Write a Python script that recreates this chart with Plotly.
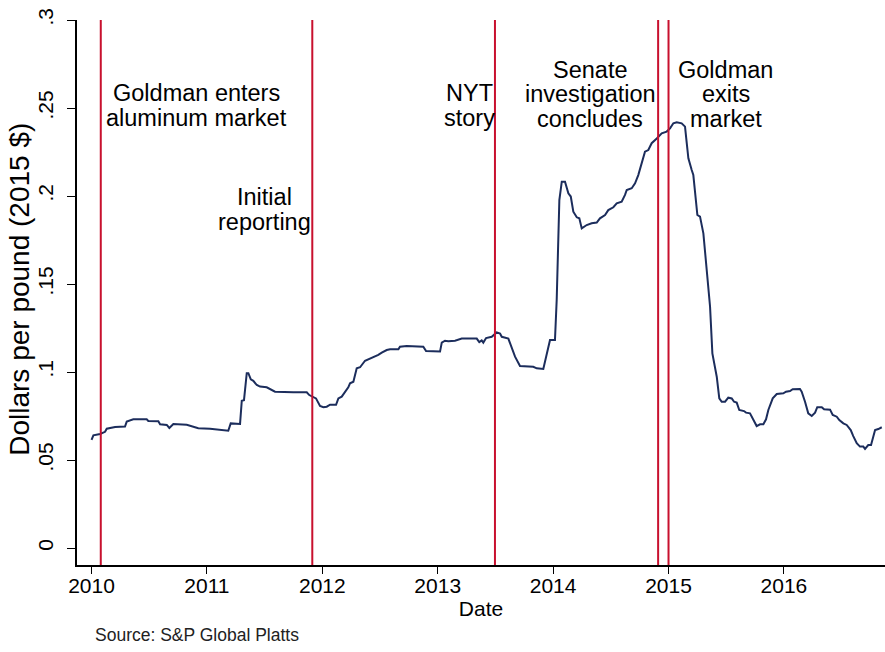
import plotly.graph_objects as go

years = [
    2010.000, 2010.016, 2010.074, 2010.117, 2010.132, 2010.204, 2010.290, 2010.305, 2010.362, 2010.478,
    2010.492, 2010.579, 2010.594, 2010.652, 2010.674, 2010.709, 2010.825, 2010.854, 2010.925, 2011.027,
    2011.172, 2011.185, 2011.206, 2011.287, 2011.302, 2011.321, 2011.345, 2011.359, 2011.380, 2011.402,
    2011.432, 2011.460, 2011.518, 2011.547, 2011.590, 2011.749, 2011.865, 2011.887, 2011.922, 2011.945,
    2011.980, 2012.009, 2012.038, 2012.067, 2012.119, 2012.139, 2012.168, 2012.197, 2012.225, 2012.240,
    2012.269, 2012.298, 2012.327, 2012.370, 2012.399, 2012.428, 2012.457, 2012.485, 2012.515, 2012.558,
    2012.587, 2012.659, 2012.673, 2012.731, 2012.875, 2012.899, 2013.020, 2013.035, 2013.063, 2013.092,
    2013.150, 2013.208, 2013.338, 2013.360, 2013.381, 2013.395, 2013.419, 2013.468, 2013.511, 2013.540,
    2013.555, 2013.612, 2013.670, 2013.713, 2013.828, 2013.858, 2013.915, 2013.938, 2013.973, 2014.016,
    2014.031, 2014.054, 2014.075, 2014.103, 2014.132, 2014.153, 2014.175, 2014.205, 2014.227, 2014.248,
    2014.291, 2014.334, 2014.378, 2014.406, 2014.450, 2014.478, 2014.522, 2014.551, 2014.594, 2014.623,
    2014.638, 2014.681, 2014.710, 2014.738, 2014.768, 2014.796, 2014.825, 2014.854, 2014.898, 2014.941,
    2014.984, 2015.013, 2015.042, 2015.071, 2015.114, 2015.143, 2015.158, 2015.172, 2015.201, 2015.215,
    2015.250, 2015.273, 2015.302, 2015.331, 2015.360, 2015.380, 2015.418, 2015.440, 2015.461, 2015.490,
    2015.518, 2015.548, 2015.568, 2015.591, 2015.613, 2015.654, 2015.672, 2015.706, 2015.730, 2015.764,
    2015.793, 2015.822, 2015.845, 2015.865, 2015.903, 2015.938, 2015.995, 2016.018, 2016.053, 2016.076,
    2016.139, 2016.154, 2016.183, 2016.211, 2016.241, 2016.270, 2016.289, 2016.328, 2016.348, 2016.400,
    2016.423, 2016.458, 2016.480, 2016.515, 2016.544, 2016.579, 2016.601, 2016.631, 2016.659, 2016.688,
    2016.703, 2016.731, 2016.755, 2016.775, 2016.790, 2016.818, 2016.848,
]
price = [
    0.0614, 0.0640, 0.0648, 0.0660, 0.0678, 0.0688, 0.0690, 0.0718, 0.0731, 0.0731,
    0.0722, 0.0720, 0.0703, 0.0699, 0.0682, 0.0705, 0.0700, 0.0693, 0.0680, 0.0678,
    0.0670, 0.0666, 0.0708, 0.0705, 0.0837, 0.0840, 0.0993, 0.0993, 0.0958, 0.0950,
    0.0926, 0.0917, 0.0913, 0.0902, 0.0888, 0.0885, 0.0885, 0.0869, 0.0856, 0.0850,
    0.0807, 0.0800, 0.0803, 0.0814, 0.0814, 0.0850, 0.0860, 0.0888, 0.0913, 0.0936,
    0.0945, 0.1021, 0.1027, 0.1064, 0.1072, 0.1083, 0.1087, 0.1097, 0.1110, 0.1125,
    0.1129, 0.1129, 0.1144, 0.1148, 0.1144, 0.1119, 0.1116, 0.1167, 0.1178, 0.1175,
    0.1178, 0.1190, 0.1190, 0.1170, 0.1180, 0.1167, 0.1193, 0.1200, 0.1225, 0.1219,
    0.1200, 0.1190, 0.1087, 0.1034, 0.1030, 0.1021, 0.1017, 0.1087, 0.1182, 0.1182,
    0.1410, 0.1977, 0.2081, 0.2081, 0.2015, 0.1997, 0.1911, 0.1879, 0.1873, 0.1816,
    0.1835, 0.1845, 0.1849, 0.1873, 0.1892, 0.1920, 0.1936, 0.1958, 0.1968, 0.2006,
    0.2034, 0.2044, 0.2072, 0.2119, 0.2186, 0.2252, 0.2261, 0.2300, 0.2327, 0.2356,
    0.2366, 0.2384, 0.2413, 0.2419, 0.2413, 0.2394, 0.2300, 0.2214, 0.2148, 0.2119,
    0.1892, 0.1883, 0.1788, 0.1598, 0.1371, 0.1106, 0.0973, 0.0850, 0.0831, 0.0831,
    0.0854, 0.0850, 0.0831, 0.0826, 0.0784, 0.0778, 0.0769, 0.0765, 0.0731, 0.0693,
    0.0703, 0.0703, 0.0731, 0.0784, 0.0850, 0.0875, 0.0879, 0.0888, 0.0892, 0.0902,
    0.0903, 0.0888, 0.0831, 0.0765, 0.0750, 0.0769, 0.0800, 0.0800, 0.0788, 0.0786,
    0.0756, 0.0746, 0.0727, 0.0708, 0.0699, 0.0670, 0.0636, 0.0595, 0.0576, 0.0576,
    0.0563, 0.0585, 0.0585, 0.0633, 0.0670, 0.0676, 0.0686,
]

event_dates = [2010.08, 2011.913, 2013.496, 2014.91, 2015.0]
event_labels = [
    ["Goldman enters", "aluminum market"],
    ["Initial", "reporting"],
    ["NYT", "story"],
    ["Senate", "investigation", "concludes"],
    ["Goldman", "exits", "market"],
]
label_x = [2010.906, 2011.503, 2013.271, 2014.320, 2015.498]
label_y = [0.2585, 0.1994, 0.2585, 0.2716, 0.2716]   # first line of each label

year_ticks = [2010, 2011, 2012, 2013, 2014, 2015, 2016]
price_ticks = [0, 0.05, 0.1, 0.15, 0.2, 0.25, 0.3]
price_tick_text = ["0", ".05", ".1", ".15", ".2", ".25", ".3"]

FONT = "Liberation Sans, Arial, sans-serif"
RED = "#C8102E"
NAVY = "#1C2D5C"
LINE_GAP = 24.5  # px between label lines (Stata packs them tighter than plotly's <br>)

fig = go.Figure()
fig.add_trace(go.Scatter(x=years, y=price, mode="lines", line=dict(color=NAVY, width=2), showlegend=False))

for d in event_dates:
    fig.add_shape(type="line", xref="x", yref="paper", x0=d, x1=d, y0=0, y1=1,
                  line=dict(color=RED, width=2))

for lines, lx, ly in zip(event_labels, label_x, label_y):
    for i, txt in enumerate(lines):
        fig.add_annotation(x=lx, y=ly, yshift=-LINE_GAP * i, text=txt, showarrow=False,
                           xanchor="center", yanchor="middle",
                           font=dict(family=FONT, size=23.5, color="black"))

# y title as an annotation so it can sit exactly where Stata put it
fig.add_annotation(x=0, y=0.505, xref="paper", yref="paper", xshift=-57, textangle=-90,
                   text="Dollars per pound (2015 $)", showarrow=False,
                   xanchor="center", yanchor="middle", font=dict(family=FONT, size=28, color="black"))

fig.add_annotation(x=0.02, y=-0.128, xref="paper", yref="paper", text="Source: S&P Global Platts",
                   showarrow=False, xanchor="left", yanchor="middle",
                   font=dict(family=FONT, size=17.5, color="#222"))

fig.update_layout(
    width=885, height=652,
    margin=dict(l=77, r=0, t=20, b=87),
    paper_bgcolor="white", plot_bgcolor="white",
    font=dict(family=FONT, size=20, color="black"),
    xaxis=dict(
        range=[2009.874, 2016.876], tickvals=year_ticks, ticktext=[str(y) for y in year_ticks],
        showgrid=False, zeroline=False, showline=True, linecolor="black", linewidth=1.5,
        ticks="outside", ticklen=7, tickcolor="black", automargin=False, ticklabelstandoff=-6,
        tickfont=dict(size=21),
        title=dict(text="Date", standoff=2, font=dict(size=21)),
    ),
    yaxis=dict(
        range=[-0.00966, 0.3], tickvals=price_ticks, ticktext=price_tick_text, tickangle=-90,
        showgrid=False, zeroline=False, showline=True, linecolor="black", linewidth=1.5,
        ticks="outside", ticklen=8, tickcolor="black", automargin=False, ticklabelstandoff=6,
        tickfont=dict(size=21),
    ),
)

# the page's default 8px body margin would shift the whole chart
fig.write_html("out.html", config={"displayModeBar": False},
               post_script="document.body.style.margin='0';")
